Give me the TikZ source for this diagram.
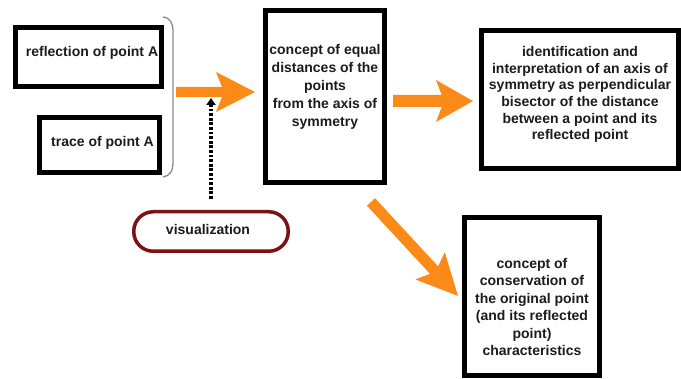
\documentclass[tikz,border=0pt]{standalone}
\usepackage{fontspec}
\setmainfont{Liberation Sans}
\usetikzlibrary{arrows.meta}

\definecolor{arroworange}{RGB}{252,138,24}
\definecolor{boxtext}{RGB}{28,28,28}
\definecolor{ovalred}{RGB}{125,18,20}
\definecolor{bracegray}{RGB}{140,140,140}

% Block arrow drawn along the local x axis, starting at the origin.
% #1 length, #2 shaft half width, #3 head length, #4 head half width, #5 notch depth
\newcommand\fatarrowshape[5]{%
  \fill[arroworange]
    (0,-#2) -- ({#1-#3+#5*(1-#2/#4)},-#2) -- ({#1-#3},-#4) -- (#1,0)
    -- ({#1-#3},#4) -- ({#1-#3+#5*(1-#2/#4)},#2) -- (0,#2) -- cycle;}

\begin{document}
\begin{tikzpicture}[
  x=1pt, y=-1pt,
  conceptbox/.style={draw=black, line width=5pt, inner sep=0pt, outer sep=0pt},
  boxlabel/.style={font=\bfseries\fontsize{14}{17.5}\selectfont, text=boxtext,
                   align=center, inner sep=0pt},
  oval/.style={draw=ovalred, line width=3.5pt, rounded corners=19.5pt,
               inner sep=0pt, outer sep=0pt},
  dottedlink/.style={draw=black, line width=3.5pt, dash pattern=on 2.8pt off 1.8pt,
                     -{Triangle[length=7pt,width=9pt]}},
]
\fill[white] (0,0) rectangle (681,379);
\useasboundingbox (0,0) rectangle (681,379);

% left-hand boxes and the bracket joining them
\node[conceptbox, minimum width=146pt, minimum height=59pt] (refl) at (88.5,57) {};
\node[boxlabel] (refltext) at (92,53) {reflection of point A};
\node[conceptbox, minimum width=120.5pt, minimum height=55.5pt] (trace) at (99.25,145.25) {};
\node[boxlabel] (tracetext) at (102.5,143) {trace of point A};
\draw[bracegray, line width=1.3pt]
  (163,17) .. controls (171,18) and (173,24) .. (173,32) -- (173,162)
  .. controls (173,171) and (170,176) .. (163,177);

% central concept
\node[conceptbox, minimum width=119pt, minimum height=172pt] (equal) at (325,96.5) {};
\node[boxlabel, font=\bfseries\fontsize{14}{18}\selectfont] (equaltext) at (325,87)
  {concept of equal\\distances of the\\points\\from the axis of\\symmetry};

% outcomes
\node[conceptbox, minimum width=197pt, minimum height=138pt] (axis) at (580,99.5) {};
\node[boxlabel, font=\bfseries\fontsize{14}{16.6}\selectfont] (axistext) at (580,94.5)
  {identification and\\interpretation of an axis of\\symmetry as perpendicular\\bisector of the distance\\between a point and its\\reflected point};

\node[conceptbox, minimum width=135pt, minimum height=158pt] (conserve) at (532,296.5) {};
\node[boxlabel] (conservetext) at (532,307)
  {concept of\\conservation of\\the original point\\(and its reflected\\point)\\characteristics};

% visualization
\node[oval, minimum width=154.5pt, minimum height=39.5pt] (vis) at (211,231.5) {};
\node[boxlabel] (vistext) at (208,229) {visualization};

% orange block arrows
\coordinate (a1s) at (176,92);
\coordinate (a2s) at (393,101);
\coordinate (a3s) at (371,202);
\begin{scope}[shift={(a1s)}]
  \fatarrowshape{79}{5}{39}{20}{8}
\end{scope}
\begin{scope}[shift={(a2s)}]
  \fatarrowshape{80}{6}{37}{21}{8}
\end{scope}
\begin{scope}[shift={(a3s)}, rotate=-47.2]
  \fatarrowshape{128}{5.5}{41}{20}{8}
\end{scope}

% dotted link from visualization up to the first arrow
\coordinate (vtip) at (211,98);
\draw[dottedlink] ([yshift=13pt]vis.north) -- (vtip);
\end{tikzpicture}
\end{document}
